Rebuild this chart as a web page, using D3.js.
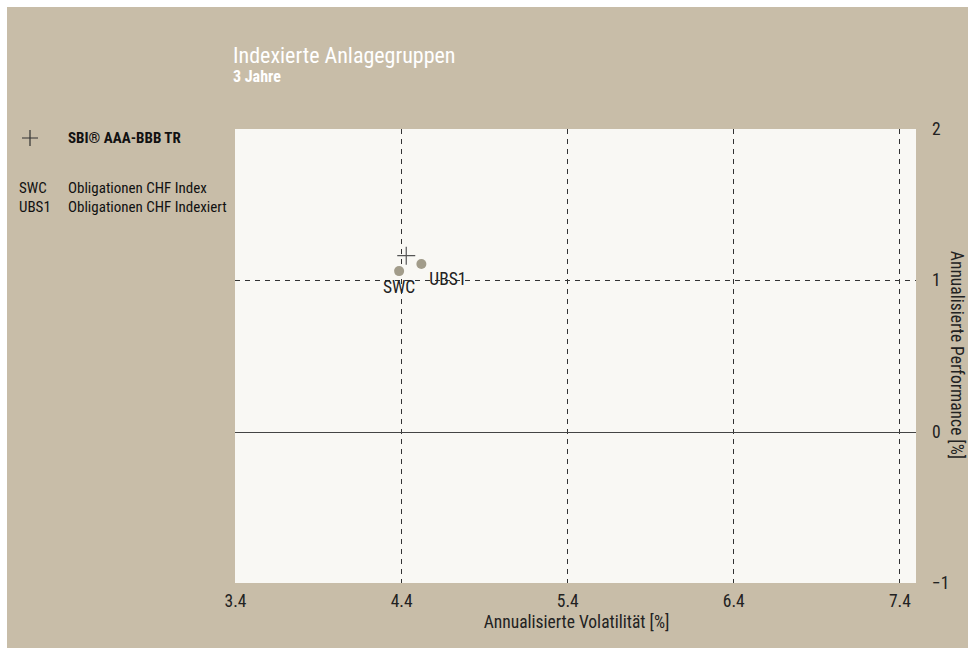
<!DOCTYPE html>
<html><head><meta charset="utf-8">
<script src="https://cdn.jsdelivr.net/npm/d3@7"></script>
<style>
html,body{margin:0;padding:0;background:#fff;}
text{font-family:"Liberation Sans Narrow","Roboto Condensed","Liberation Sans",sans-serif;}
</style></head><body>
<svg id="c" width="968" height="648"></svg>
<script>
const title = "Indexierte Anlagegruppen";
const subtitle = "3 Jahre";
const benchmarkName = "SBI® AAA-BBB TR";
const benchmark = {vol: 4.431, perf: 1.163};
const codes = ["SWC", "UBS1"];
const names = ["Obligationen CHF Index", "Obligationen CHF Indexiert"];
const volatility = [4.388, 4.522];
const performance = [1.061, 1.108];
const xTicks = [3.4, 4.4, 5.4, 6.4, 7.4];
const yTicks = [-1, 0, 1, 2];
const xLabel = "Annualisierte Volatilität [%]";
const yLabel = "Annualisierte Performance [%]";

const svg = d3.select("#c");
svg.append("rect").attr("x",7).attr("y",7).attr("width",961).attr("height",641).attr("fill","#C8BDA8");

const L=235, R=916, T=129, B=583;
const x = d3.scaleLinear().domain([3.4,7.5]).range([L,R]);
const y = d3.scaleLinear().domain([-1,2]).range([B,T]);

svg.append("rect").attr("x",L).attr("y",T).attr("width",R-L).attr("height",B-T).attr("fill","#F9F8F4");

// grid
const g = svg.append("g");
g.selectAll("line.vx").data(xTicks.filter(d=>d>3.4)).join("line")
  .attr("x1",d=>Math.round(x(d))+0.5).attr("x2",d=>Math.round(x(d))+0.5)
  .attr("y1",T).attr("y2",B).attr("stroke","#333").attr("stroke-width",1).attr("stroke-dasharray","5,5");
g.selectAll("line.hy").data(yTicks.filter(d=>d===1)).join("line")
  .attr("x1",L).attr("x2",R).attr("y1",d=>Math.round(y(d))+0.5).attr("y2",d=>Math.round(y(d))+0.5)
  .attr("stroke","#333").attr("stroke-dasharray","5,5");
g.append("line").attr("x1",L).attr("x2",R).attr("y1",Math.round(y(0))+0.5).attr("y2",Math.round(y(0))+0.5)
  .attr("stroke","#444").attr("stroke-width",1);

// axes
const xAxis = d3.axisBottom(x).tickValues(xTicks).tickSize(0).tickPadding(12).tickFormat(d3.format(".1f"));
const xa = svg.append("g").attr("transform",`translate(0,${B})`).call(xAxis);
xa.select(".domain").remove();
xa.selectAll("text").attr("font-size",17.5).attr("fill","#222").attr("font-family",null);

const yAxis = d3.axisRight(y).tickValues(yTicks).tickSize(0).tickPadding(16).tickFormat(d3.format("d"));
const ya = svg.append("g").attr("transform",`translate(${R},0)`).call(yAxis);
ya.select(".domain").remove();
ya.selectAll("text").attr("font-size",17.5).attr("fill","#222").attr("font-family",null);

svg.append("text").attr("x",(L+R)/2+1).attr("y",628).attr("text-anchor","middle")
  .attr("font-size",17.5).attr("fill","#222").text(xLabel);
svg.append("text").attr("transform",`translate(951,355) rotate(90)`).attr("text-anchor","middle")
  .attr("font-size",17.5).attr("fill","#222").text(yLabel);

// title
svg.append("text").attr("x",233).attr("y",63).attr("font-size",22).attr("fill","#fff").text(title);
svg.append("text").attr("x",233).attr("y",82).attr("font-size",16).attr("font-weight","bold").attr("fill","#fff").text(subtitle);

// points
svg.selectAll("circle.pt").data(codes).join("circle")
  .attr("cx",(d,i)=>x(volatility[i])).attr("cy",(d,i)=>y(performance[i])).attr("r",5).attr("fill","#A29C8A");
// labels
svg.append("text").attr("x",x(volatility[0])).attr("y",y(performance[0])+22).attr("text-anchor","middle")
  .attr("font-size",17.5).attr("fill","#222").text(codes[0]);
svg.append("text").attr("x",x(volatility[1])+8).attr("y",y(performance[1])+21)
  .attr("font-size",17.5).attr("fill","#222").text(codes[1]);

// benchmark cross
const cx=x(benchmark.vol), cy=y(benchmark.perf), s=9;
svg.append("path").attr("d",`M${cx-s},${cy}H${cx+s}M${cx},${cy-s}V${cy+s}`).attr("stroke","#555").attr("stroke-width",1.2).attr("fill","none");

// legend
const lx=30, ly=138;
svg.append("path").attr("d",`M${lx-8},${ly}H${lx+8}M${lx},${ly-8}V${ly+8}`).attr("stroke","#333").attr("stroke-width",1.2);
svg.append("text").attr("x",68).attr("y",ly+5).attr("font-size",15).attr("font-weight","bold").attr("fill","#111").text(benchmarkName);
codes.forEach((c,i)=>{
  svg.append("text").attr("x",19).attr("y",193+i*19).attr("font-size",15).attr("fill","#111").text(c);
  svg.append("text").attr("x",68).attr("y",193+i*19).attr("font-size",15).attr("fill","#111").text(names[i]);
});
</script></body></html>
